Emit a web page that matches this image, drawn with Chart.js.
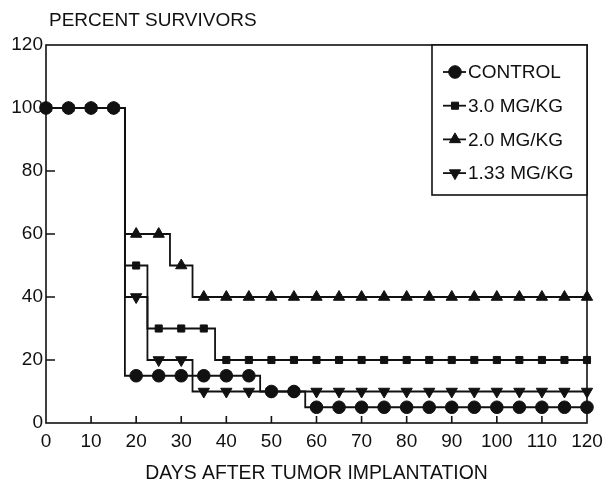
<!DOCTYPE html>
<html><head><meta charset="utf-8">
<script src="https://cdn.jsdelivr.net/npm/chart.js@4.4.0/dist/chart.umd.min.js"></script>
<style>html,body{margin:0;padding:0;background:#fff;}#wrap{width:605px;height:483px;position:relative;}</style>
</head><body><div id="wrap"><canvas id="c" width="605" height="483"></canvas></div>
<script>
const days    = [0,5,10,15,20,25,30,35,40,45,50,55,60,65,70,75,80,85,90,95,100,105,110,115,120];
const control = [100,100,100,100,15,15,15,15,15,15,10,10,5,5,5,5,5,5,5,5,5,5,5,5,5];
const mg30    = [100,100,100,100,50,30,30,30,20,20,20,20,20,20,20,20,20,20,20,20,20,20,20,20,20];
const mg20    = [100,100,100,100,60,60,50,40,40,40,40,40,40,40,40,40,40,40,40,40,40,40,40,40,40];
const mg133   = [100,100,100,100,40,20,20,10,10,10,10,10,10,10,10,10,10,10,10,10,10,10,10,10,10];
const seriesNames = ['CONTROL','3.0 MG/KG','2.0 MG/KG','1.33 MG/KG'];
const xTicks = [0,10,20,30,40,50,60,70,80,90,100,110,120];
const yTicks = [0,20,40,60,80,100,120];
const chartTitle = 'PERCENT SURVIVORS';
const xTitle = 'DAYS AFTER TUMOR IMPLANTATION';

const INK = '#111';
const FONT = '"Liberation Sans", Arial, Helvetica, sans-serif';
const styles = [
  {pointStyle:'circle', radius:6.3, rotation:0},
  {pointStyle:'rect', radius:5, rotation:0},
  {pointStyle:'triangle', radius:6.5, rotation:0},
  {pointStyle:'triangle', radius:6.5, rotation:180}
];
const allSeries = [control, mg30, mg20, mg133];

const datasets = allSeries.map((vals, i) => ({
  label: seriesNames[i],
  data: days.map((d, k) => ({x: d, y: vals[k]})),
  stepped: 'middle',
  borderColor: INK,
  borderWidth: 1.8,
  backgroundColor: INK,
  pointBackgroundColor: INK,
  pointBorderColor: INK,
  pointBorderWidth: 1,
  pointStyle: styles[i].pointStyle,
  pointRadius: styles[i].radius,
  pointRotation: styles[i].rotation,
  clip: false,
  order: 3 - i
}));

function drawMarker(ctx, st, x, y) {
  if (Chart.helpers && Chart.helpers.drawPoint) {
    Chart.helpers.drawPoint(ctx, {pointStyle: st.pointStyle, radius: st.radius, rotation: st.rotation, borderWidth: 1}, x, y);
    return;
  }
  ctx.beginPath();
  ctx.arc(x, y, st.radius, 0, Math.PI * 2);
  ctx.fill();
}

const deco = {
  id: 'deco',
  beforeDatasetsDraw(chart) {
    const {ctx, chartArea: a, scales: {x, y}} = chart;
    ctx.save();
    ctx.strokeStyle = INK;
    ctx.lineWidth = 1.6;
    ctx.strokeRect(a.left, a.top, a.right - a.left, a.bottom - a.top);
    ctx.beginPath();
    xTicks.forEach(v => {
      if (v <= xTicks[0] || v >= xTicks[xTicks.length - 1]) return;
      const px = x.getPixelForValue(v);
      ctx.moveTo(px, a.bottom); ctx.lineTo(px, a.bottom - 7);
    });
    yTicks.forEach(v => {
      if (v <= yTicks[0] || v >= yTicks[yTicks.length - 1]) return;
      const py = y.getPixelForValue(v);
      ctx.moveTo(a.left, py); ctx.lineTo(a.left + 9, py);
    });
    ctx.stroke();
    ctx.restore();
  },
  afterDatasetsDraw(chart) {
    const {ctx, chartArea: a} = chart;
    ctx.save();
    const L = a.right - 155, T = a.top, R = a.right, B = a.top + 150;
    ctx.fillStyle = '#fff';
    ctx.fillRect(L, T, R - L, B - T);
    ctx.strokeStyle = INK;
    ctx.lineWidth = 1.6;
    ctx.strokeRect(L, T, R - L, B - T);
    ctx.font = '19px ' + FONT;
    ctx.textBaseline = 'middle';
    ctx.textAlign = 'left';
    seriesNames.forEach((name, i) => {
      const cy = T + 27 + i * 33.7;
      ctx.strokeStyle = INK;
      ctx.lineWidth = 1.8;
      ctx.beginPath();
      ctx.moveTo(L + 11, cy); ctx.lineTo(L + 34, cy);
      ctx.stroke();
      ctx.fillStyle = INK;
      ctx.strokeStyle = INK;
      ctx.lineWidth = 1;
      drawMarker(ctx, styles[i], L + 23, cy);
      ctx.fillStyle = INK;
      ctx.fillText(name, L + 36, cy + 1);
    });
    ctx.restore();
  },
  afterDraw(chart) {
    const {ctx, chartArea: a} = chart;
    ctx.save();
    ctx.fillStyle = INK;
    ctx.font = '19px ' + FONT;
    ctx.textBaseline = 'middle';
    ctx.textAlign = 'left';
    ctx.fillText(chartTitle, a.left + 3, 21);
    ctx.textAlign = 'center';
    ctx.font = '19.4px ' + FONT;
    ctx.fillText(xTitle, (a.left + a.right) / 2, 474);
    ctx.restore();
  }
};

new Chart(document.getElementById('c'), {
  type: 'line',
  data: {datasets},
  options: {
    responsive: false,
    animation: false,
    devicePixelRatio: 1,
    layout: {padding: {left: 1, top: 45, right: 18, bottom: 0}},
    plugins: {legend: {display: false}, tooltip: {enabled: false}, title: {display: false}},
    scales: {
      x: {
        type: 'linear', min: 0, max: 120,
        afterFit(s) { s.height = 60; s.paddingLeft = 0; s.paddingRight = 0; },
        afterBuildTicks(s) { s.ticks = xTicks.map(v => ({value: v})); },
        grid: {display: false, drawTicks: false},
        border: {display: false},
        ticks: {color: INK, font: {size: 19, family: FONT}, padding: 7, maxRotation: 0, autoSkip: false}
      },
      y: {
        type: 'linear', min: 0, max: 120,
        afterFit(s) { s.width = 45; s.paddingTop = 0; s.paddingBottom = 0; },
        afterBuildTicks(s) { s.ticks = yTicks.map(v => ({value: v})); },
        grid: {display: false, drawTicks: false},
        border: {display: false},
        ticks: {color: INK, font: {size: 19, family: FONT}, padding: 3}
      }
    }
  },
  plugins: [deco]
});
</script>
</body></html>
